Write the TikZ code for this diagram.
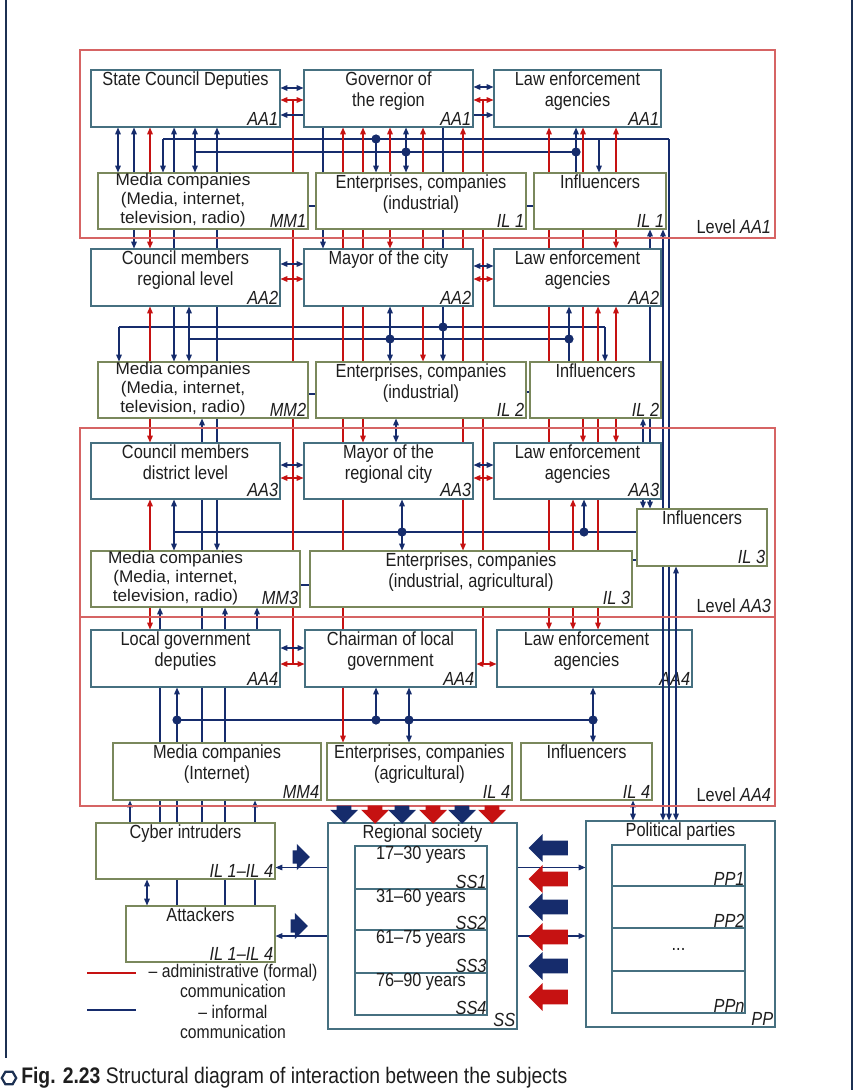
\documentclass[tikz,border=0pt]{standalone}
\usepackage{fontspec}
\setmainfont{Liberation Sans}[FakeStretch=0.86]
\usetikzlibrary{arrows.meta, positioning, fit, backgrounds, shapes.geometric, shapes.arrows}

\definecolor{infblue}{RGB}{22,44,108}
\definecolor{admred}{RGB}{198,18,18}
\definecolor{framered}{RGB}{214,100,100}
\definecolor{aaedge}{RGB}{70,112,128}
\definecolor{mmedge}{RGB}{122,136,92}
\definecolor{navy}{RGB}{28,48,82}
\definecolor{txtgray}{RGB}{30,30,30}

\tikzset{
  aabox/.style={draw=aaedge, fill=white, line width=0.75pt, inner sep=0pt},
  mmbox/.style={draw=mmedge, fill=white, line width=0.75pt, inner sep=0pt},
  ttl/.style={anchor=north, align=center, inner sep=1.5pt},
  mmttl/.style={ttl, inner sep=0.5pt, xshift=-0.5cm, font=\fontsize{12}{13.3}\selectfont\addfontfeature{FakeStretch=1.02}},
  idl/.style={anchor=south east, inner sep=1.5pt, execute at begin node=\itshape},
  lvl/.style={draw=framered, line width=0.75pt, inner sep=0pt},
  bl/.style={draw=infblue, line width=0.75pt},
  rd/.style={draw=admred, line width=0.75pt},
  ovr/.style={shorten <=-0.17cm, shorten >=-0.17cm},
  dot/.style={circle, fill=infblue, inner sep=0pt, minimum size=0.23cm},
  blkarr/.style={single arrow, inner xsep=0pt, inner ysep=0.18cm, minimum width=0pt, single arrow head extend=0.16cm},
}

\begin{document}
\begin{tikzpicture}[x=0.025cm, y=-0.025cm, font=\fontsize{13.5}{15}\selectfont, text=txtgray,
    >={Triangle[length=1.7mm,width=1.4mm]}]
    \useasboundingbox (0,0) rectangle (856,1090);

    % levels
    \node[lvl, fit={(80,50) (775,238)}, label={[anchor=south east, inner sep=3pt]south east:Level \textit{AA1}}] (lv1) {};
    \node[lvl, fit={(80,428) (775,617)}, label={[anchor=south east, inner sep=3pt]south east:Level \textit{AA3}}] (lv3) {};
    \node[lvl, fit={(80,617) (775,806)}, label={[anchor=south east, inner sep=3pt]south east:Level \textit{AA4}}] (lv4) {};

    % level AA1
    \node[aabox, fit={(91,70) (280,127)}, label={[ttl]north:State Council Deputies}, label={[idl]south east:AA1}] (scd) {};
    \node[aabox, fit={(304,70) (473,127)}, label={[ttl]north:{Governor of\\the region}}, label={[idl]south east:AA1}] (gov) {};
    \node[aabox, fit={(494,70) (661,127)}, label={[ttl]north:{Law enforcement\\agencies}}, label={[idl]south east:AA1}] (lea1) {};
    \node[mmbox, fit={(98,173) (308,229)}, label={[mmttl]north:{Media companies\\(Media, internet,\\television, radio)}}, label={[idl]south east:MM1}] (mm1) {};
    \node[mmbox, fit={(316,173) (526,229)}, label={[ttl]north:{Enterprises, companies\\(industrial)}}, label={[idl]south east:IL 1}] (ent1) {};
    \node[mmbox, fit={(534,173) (666,229)}, label={[ttl]north:Influencers}, label={[idl]south east:IL 1}] (inf1) {};

    % level AA2
    \node[aabox, fit={(91,249) (280,306)}, label={[ttl]north:{Council members\\regional level}}, label={[idl]south east:AA2}] (cmr) {};
    \node[aabox, fit={(304,249) (473,306)}, label={[ttl]north:Mayor of the city}, label={[idl]south east:AA2}] (may) {};
    \node[aabox, fit={(494,249) (661,306)}, label={[ttl]north:{Law enforcement\\agencies}}, label={[idl]south east:AA2}] (lea2) {};
    \node[mmbox, fit={(98,362) (308,418)}, label={[mmttl]north:{Media companies\\(Media, internet,\\television, radio)}}, label={[idl]south east:MM2}] (mm2) {};
    \node[mmbox, fit={(316,362) (526,418)}, label={[ttl]north:{Enterprises, companies\\(industrial)}}, label={[idl]south east:IL 2}] (ent2) {};
    \node[mmbox, fit={(530,362) (661,418)}, label={[ttl]north:Influencers}, label={[idl]south east:IL 2}] (inf2) {};

    % level AA3
    \node[aabox, fit={(91,443) (280,499)}, label={[ttl]north:{Council members\\district level}}, label={[idl]south east:AA3}] (cmd) {};
    \node[aabox, fit={(304,443) (473,499)}, label={[ttl]north:{Mayor of the\\regional city}}, label={[idl]south east:AA3}] (mrc) {};
    \node[aabox, fit={(494,443) (661,499)}, label={[ttl]north:{Law enforcement\\agencies}}, label={[idl]south east:AA3}] (lea3) {};
    \node[mmbox, fit={(91,551) (300,607)}, label={[mmttl]north:{Media companies\\(Media, internet,\\television, radio)}}, label={[idl]south east:MM3}] (mm3) {};
    \node[mmbox, fit={(310,551) (632,607)}, label={[ttl]north:{Enterprises, companies\\(industrial, agricultural)}}, label={[idl]south east:IL 3}] (ent3) {};
    \node[mmbox, fit={(637,509) (767,566)}, label={[ttl]north:Influencers}, label={[idl]south east:IL 3}] (inf3) {};

    % level AA4
    \node[aabox, fit={(91,630) (280,687)}, label={[ttl]north:{Local government\\deputies}}, label={[idl]south east:AA4}] (lgd) {};
    \node[aabox, fit={(305,630) (476,687)}, label={[ttl]north:{Chairman of local\\government}}, label={[idl]south east:AA4}] (clg) {};
    \begin{scope}[on background layer]
    \node[aabox, fit={(497,630) (692,687)}, label={[ttl,xshift=-0.2cm]north:{Law enforcement\\agencies}}, label={[idl]south east:AA4}] (lea4) {};
    \end{scope}
    \node[mmbox, fit={(113,743) (321,800)}, label={[ttl]north:{Media companies\\(Internet)}}, label={[idl]south east:MM4}] (mm4) {};
    \node[mmbox, fit={(327,743) (512,800)}, label={[ttl]north:{Enterprises, companies\\(agricultural)}}, label={[idl]south east:IL 4}] (ent4) {};
    \node[mmbox, fit={(521,743) (652,800)}, label={[ttl]north:Influencers}, label={[idl]south east:IL 4}] (inf4) {};

    % society and parties
    \node[mmbox, fit={(96,823) (275,879)}, label={[ttl]north:Cyber intruders}, label={[idl]south east:IL 1–IL 4}] (cyber) {};
    \node[mmbox, fit={(126,906) (275,962)}, label={[ttl]north:Attackers}, label={[idl]south east:IL 1–IL 4}] (att) {};
    \node[aabox, fit={(328,823) (517,1029)}, label={[ttl,inner sep=1.5pt]north:Regional society}, label={[idl]south east:SS}] (ss) {};
    \node[aabox, fit={(355,846) (487,889)}, label={[ttl,inner sep=0.5pt]north:17–30 years}, label={[idl,inner sep=0.5pt]south east:SS1}] (ss1) {};
    \node[aabox, fit={(355,889) (487,930)}, label={[ttl,inner sep=0.5pt]north:31–60 years}, label={[idl,inner sep=0.5pt]south east:SS2}] (ss2) {};
    \node[aabox, fit={(355,930) (487,973)}, label={[ttl,inner sep=0.5pt]north:61–75 years}, label={[idl,inner sep=0.5pt]south east:SS3}] (ss3) {};
    \node[aabox, fit={(355,973) (487,1015)}, label={[ttl,inner sep=0.5pt]north:76–90 years}, label={[idl,inner sep=0.5pt]south east:SS4}] (ss4) {};
    \node[aabox, fit={(586,821) (775,1027)}, label={[ttl]north:Political parties}, label={[idl]south east:PP}] (pp) {};
    \node[aabox, fit={(612,845) (745,886)}, label={[idl,inner sep=0.5pt]south east:PP1}] (pp1) {};
    \node[aabox, fit={(612,886) (745,928)}, label={[idl,inner sep=0.5pt]south east:PP2}] (pp2) {};
    \node[aabox, fit={(612,928) (745,971)}, label={[anchor=center]center:...}] (pp3) {};
    \node[aabox, fit={(612,971) (745,1013)}, label={[idl,inner sep=0.5pt]south east:PPn}] (ppn) {};

    % buses
    \coordinate (hA1w) at (163,139); \coordinate (hA1e) at (669,139);
    \coordinate (hA2w) at (195,152); \coordinate (hA2e) at (576,152);
    \coordinate (hC1w) at (119,327); \coordinate (hC1e) at (605,327);
    \coordinate (hC2w) at (189,339); \coordinate (hC2e) at (569,339);
    \coordinate (hEw) at (174,532);
    \coordinate (hGw) at (177,720); \coordinate (hGe) at (593,720);
    \coordinate (rblt) at (293,100); \coordinate (rblb) at (293,664);
    \coordinate (rbrt) at (483,100); \coordinate (rbrb) at (483,663);

    \begin{scope}[on background layer]
    \draw[bl] (hA1w) -- (hA1e);
    \draw[bl] (hA2w) -- (hA2e);
    \draw[bl] (hC1w) -- (hC1e);
    \draw[bl] (hC2w) -- (hC2e);
    \draw[bl] (hEw) -- (inf3.west |- hEw);
    \draw[bl] (hGw) -- (hGe);
    \draw[rd] (rblt) -- (rblb);
    \draw[rd] (rbrt) -- (rbrb);

    % informal links
    \foreach \x/\a/\b/\t in {118/scd.south/mm1.north/<->, 134/scd.south/cmr.north/<->,
        163/hA1w/mm1.north/->, 174/scd.south/mm2.north/<->, 195/scd.south/mm1.north/<->,
        217/scd.south/mm3.north/<->, 323/gov.south/may.north/->, 376/hA1w/ent1.north/->,
        406/gov.south/ent1.north/<->, 443/gov.south/ent2.north/->, 576/lea1.south/inf1.north/<-,
        599/hA1w/inf1.north/->, 650/inf1.south/inf3.north/<->, 663/inf1.south/pp.north/<->,
        669/hA1e/pp.north/->, 119/hC1w/mm2.north/->, 189/cmr.south/mm2.north/<->,
        390/may.south/ent2.north/<->, 569/lea2.south/inf2.north/<-, 605/hC1w/inf2.north/->,
        643/inf2.south/inf3.north/<->, 202/mm2.south/cyber.north/<-, 396/ent2.south/mrc.north/<->,
        174/cmd.south/mm3.north/<->, 402/mrc.south/ent3.north/<->, 584/lea3.south/hEw/<-,
        676/inf3.south/pp.north/<->, 160/mm3.south/cyber.north/<-, 225/mm3.south/att.north/<-,
        257/mm3.south/lgd.north/<-, 177/lgd.south/att.north/<-, 376/clg.south/hGw/<-,
        409/clg.south/ent4.north/<->, 593/lea4.south/inf4.north/<->, 130/mm4.south/cyber.north/<-,
        255/mm4.south/att.north/<-, 147/cyber.south/att.north/<->, 633/inf4.south/pp.north/<->}
      \draw[bl,\t] (\x,0 |- \a) -- (\x,0 |- \b);

    % administrative links
    \foreach \x/\a/\b in {150/scd/cmr, 150/cmr/cmd, 150/cmd/lgd, 343/gov/ent4, 363/gov/mrc,
        390/gov/may, 423/gov/ent2, 463/gov/ent3, 549/lea1/lea4, 583/lea1/lea3, 616/lea1/lea2,
        616/lea2/lea3, 598/lea2/lea4, 573/lea3/lea4}
      \draw[rd,<->] (\x,0 |- \a.south) -- (\x,0 |- \b.north);

    % links inside a row
    \foreach \a/\b/\y/\s/\t in {scd/gov/88/bl/<->, scd/gov/100/rd/<->, scd/gov/115/bl/<-,
        gov/lea1/87/bl/<->, gov/lea1/100/rd/<->, gov/lea1/115/bl/->,
        cmr/may/264/bl/<->, cmr/may/279/rd/<->, may/lea2/266/bl/<->, may/lea2/279/rd/<->,
        cmd/mrc/465/bl/<->, cmd/mrc/478/rd/<->, mrc/lea3/465/bl/<->, mrc/lea3/478/rd/<->,
        lgd/clg/648/bl/<->, lgd/clg/664/rd/<->, clg/lea4/664/rd/<->}
      \draw[\s,\t] (\a.east |- 0,\y) -- (\b.west |- 0,\y);
    \foreach \a/\b/\y in {mm1/ent1/206, ent1/inf1/206, mm2/ent2/394, ent2/inf2/392, mm3/ent3/585}
      \draw[bl,ovr,<->] (\a.east |- 0,\y) -- (\b.west |- 0,\y);
    \draw[bl,->,shorten >=-0.22cm] (inf3.west |- 0,560) -- (ent3.east |- 0,560);

    % society links
    \draw[bl,->] (ss1.west) -- (cyber.east |- ss1.west);
    \draw[bl,->] (ss3.west |- 0,936) -- (att.east |- 0,936);
    \draw[bl,->] (ss1.east) -- (pp.west |- ss1.east);
    \draw[bl,->] (ss3.east |- 0,936) -- (pp.west |- 0,936);
    \end{scope}

    % junctions
    \foreach \x/\y [count=\i] in {376/139, 406/152, 576/152, 443/327, 390/339, 569/339,
        402/532, 584/532, 177/720, 376/720, 409/720, 593/720}
      \node[dot] (jn\i) at (\x,\y) {};

    % influence arrows
    \foreach \x/\c [count=\i] in {344/infblue, 375/admred, 402/infblue, 433/admred, 462/infblue, 492/admred}
      \node[blkarr, fill=\c, rotate=270, minimum height=0.45cm] (dn\i) at (\x,811) {};
    \foreach \y/\c [count=\i] in {848/infblue, 879/admred, 907/infblue, 937/admred, 966/infblue, 997/admred}
      \node[blkarr, fill=\c, rotate=180, minimum height=0.98cm] (lf\i) at (552,\y) {};
    \node[blkarr, fill=infblue, minimum height=0.43cm, inner ysep=0.16cm] (rt1) at (298,857) {};
    \node[blkarr, fill=infblue, minimum height=0.43cm, inner ysep=0.16cm] (rt2) at (296,926) {};

    % legend
    \coordinate (lg1a) at (87,973); \coordinate (lg1b) at (136,973);
    \coordinate (lg2a) at (87,1010); \coordinate (lg2b) at (136,1010);
    \draw[rd] (lg1a) -- (lg1b);
    \draw[bl] (lg2a) -- (lg2b);
    \node[align=center, inner sep=0pt, font=\fontsize{13}{14.6}\selectfont] (lgt1) at (233,981) {– administrative (formal)\\communication};
    \node[align=center, inner sep=0pt, font=\fontsize{13}{14.6}\selectfont] (lgt2) at (233,1022) {– informal\\communication};

    % frame and caption
    \draw[navy, line width=1.5pt] (6,0) -- (6,1058);
    \draw[navy, line width=1.5pt] (852,0) -- (852,1090);
    \node[regular polygon, regular polygon sides=6, draw=navy, line width=1.6pt, inner sep=0pt, minimum size=0.36cm] (hex) at (9,1078) {};
    \node[anchor=west, inner sep=0pt, font=\fontsize{16}{18}\selectfont] (cap) at (21,1078) {\textbf{Fig. 2.23} Structural diagram of interaction between the subjects};
\end{tikzpicture}
\end{document}
